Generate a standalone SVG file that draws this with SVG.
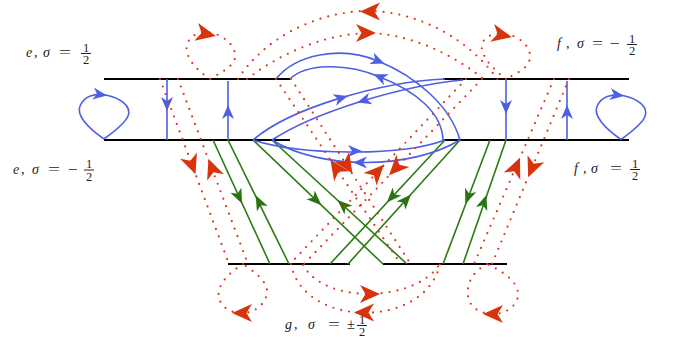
<svg xmlns="http://www.w3.org/2000/svg" width="681" height="341" viewBox="0 0 681 341">
<style>
.brane{stroke:#000;stroke-width:2;fill:none}
.bl{stroke:#4d5fe3;stroke-width:1.6;fill:none}
.gr{stroke:#2b7a12;stroke-width:1.6;fill:none}
.rd{stroke:#e2351c;stroke-width:2.2;fill:none;stroke-linecap:round;stroke-dasharray:0 8}
.fb{fill:#4d5fe3}
.fg{fill:#2a7410}
.fr{fill:#d8340c}
text{font-family:"Liberation Serif","DejaVu Serif",serif;fill:#222}
.m{font-size:14px;font-style:italic}
.n{font-size:14px}
.d{font-size:12.5px;text-anchor:middle}
.bar{stroke:#222;stroke-width:1}
</style>
<defs>
<path id="ab" d="M7,0 L-7,-6 L-3,0 L-7,6 Z"/>
<path id="ag" d="M7.5,0 L-7.5,-6 L-3.5,0 L-7.5,6 Z"/>
<path id="ar" d="M10,0 L-10,-9 L-4.5,0 L-10,9 Z"/>
</defs>
<g id="branes">
<line class="brane" x1="104" y1="79" x2="290" y2="79"/>
<line class="brane" x1="443" y1="79" x2="629" y2="79"/>
<line class="brane" x1="104" y1="140" x2="290" y2="140"/>
<line class="brane" x1="443" y1="140" x2="629" y2="140"/>
<line class="brane" x1="228" y1="264" x2="350" y2="264"/>
<line class="brane" x1="383" y1="264" x2="507" y2="264"/>
</g>
<g id="connectors">
<g id="green">
<path class="gr" d="M213,140 L270,264"/>
<path class="gr" d="M228,140 L289,264"/>
<path class="gr" d="M253,140 L383,264"/>
<path class="gr" d="M272,140 L407,264"/>
<path class="gr" d="M445,140 L330,264"/>
<path class="gr" d="M460,140 L348,264"/>
<path class="gr" d="M490,140 L443,264"/>
<path class="gr" d="M506,140 L463,264"/>
<use href="#ag" class="fg" transform="translate(239,197) rotate(65.3)"/>
<use href="#ag" class="fg" transform="translate(259,202) rotate(243.8)"/>
<use href="#ag" class="fg" transform="translate(316,200) rotate(43.6)"/>
<use href="#ag" class="fg" transform="translate(343,205) rotate(222.6)"/>
<use href="#ag" class="fg" transform="translate(392,197) rotate(132.8)"/>
<use href="#ag" class="fg" transform="translate(406,200) rotate(-47.9)"/>
<use href="#ag" class="fg" transform="translate(468,197) rotate(110.8)"/>
<use href="#ag" class="fg" transform="translate(484,202) rotate(-70.9)"/>
</g>
<g id="blue">
<path class="bl" d="M104,139 C88,128 76,115 80,106 C84,96 95,93 106,95 C120,98 132,106 128,116 C125,124 112,133 104,139"/>
<path class="bl" transform="translate(517,0.5)" d="M104,139 C88,128 76,115 80,106 C84,96 95,93 106,95 C120,98 132,106 128,116 C125,124 112,133 104,139"/>
<path class="bl" d="M167,79 V140"/>
<path class="bl" d="M228,81 V140"/>
<path class="bl" d="M506,79 V140"/>
<path class="bl" d="M567,81 V140"/>
<path class="bl" d="M276,79 C295,55 340,45 378,61 C415,76 450,105 460,140"/>
<path class="bl" d="M290,79 C305,64 345,62 380,77 C415,91 442,112 443,140"/>
<path class="bl" d="M253,140 C290,108 380,82 445,79"/>
<path class="bl" d="M272,140 C315,112 400,86 463,80"/>
<path class="bl" d="M253,140 C300,155 400,157 445,140"/>
<path class="bl" d="M272,140 C320,170 410,170 460,140"/>
<use href="#ab" class="fb" transform="translate(100,94.5) rotate(8)"/>
<use href="#ab" class="fb" transform="translate(617,95) rotate(8)"/>
<use href="#ab" class="fb" transform="translate(167,104) rotate(90)"/>
<use href="#ab" class="fb" transform="translate(228,112) rotate(-90)"/>
<use href="#ab" class="fb" transform="translate(506,107) rotate(90)"/>
<use href="#ab" class="fb" transform="translate(567,112) rotate(-90)"/>
<use href="#ab" class="fb" transform="translate(378,61) rotate(22)"/>
<use href="#ab" class="fb" transform="translate(380,77) rotate(203)"/>
<use href="#ab" class="fb" transform="translate(341,98) rotate(-17)"/>
<use href="#ab" class="fb" transform="translate(364,100.5) rotate(163)"/>
<use href="#ab" class="fb" transform="translate(355,151) rotate(0)"/>
<use href="#ab" class="fb" transform="translate(360,162.5) rotate(180)"/>
</g>
<g id="red">
<path class="rd" d="M210,79 C196,70 184,56 187,45 C190,33 205,29 218,35 C232,41 240,55 232,64 C226,71 216,75 210,79"/>
<path class="rd" d="M506,79 C494,70 480,56 482,45 C484,34 500,31 513,36 C526,41 534,53 528,64 C523,71 513,75 506,79"/>
<path class="rd" d="M238,79 C270,30 330,10 370,11 C420,12 470,40 498,80"/>
<path class="rd" d="M247,79 C285,50 330,33 372,33 C420,36 460,60 485,80"/>
<path class="rd" d="M160,79 L229,264"/>
<path class="rd" d="M178,79 L248,264"/>
<path class="rd" d="M554,79 L474,264"/>
<path class="rd" d="M569,79 L492,264"/>
<path class="rd" d="M276,79 L400,263"/>
<path class="rd" d="M291,79 L410,263"/>
<path class="rd" d="M466,79 L291,263"/>
<path class="rd" d="M482,79 L304,264"/>
<path class="rd" d="M303,265 C325,305 415,302 439,265"/>
<path class="rd" d="M291,264 C303,328 425,330 440,264"/>
<path class="rd" d="M243,264 C230,272 216,285 219,298 C222,310 236,314 245,313 C256,312 268,302 267,290 C266,280 252,270 243,264"/>
<path class="rd" d="M487,264 C475,270 466,282 468,296 C470,309 482,314 494,314 C506,314 519,305 518,293 C517,280 500,270 487,264"/>
<use href="#ar" class="fr" transform="translate(206,34) rotate(12)"/>
<use href="#ar" class="fr" transform="translate(502,35) rotate(12)"/>
<use href="#ar" class="fr" transform="translate(370,11.5) rotate(180)"/>
<use href="#ar" class="fr" transform="translate(366,33) rotate(0)"/>
<use href="#ar" class="fr" transform="translate(192,165) rotate(69.5)"/>
<use href="#ar" class="fr" transform="translate(212,168) rotate(249.3)"/>
<use href="#ar" class="fr" transform="translate(516,167) rotate(-66.6)"/>
<use href="#ar" class="fr" transform="translate(532,168) rotate(112.6)"/>
<use href="#ar" class="fr" transform="translate(336,168) rotate(236)"/>
<use href="#ar" class="fr" transform="translate(347,165) rotate(57)"/>
<use href="#ar" class="fr" transform="translate(377,172) rotate(-46.4)"/>
<use href="#ar" class="fr" transform="translate(396,168) rotate(133.9)"/>
<use href="#ar" class="fr" transform="translate(370,294) rotate(0)"/>
<use href="#ar" class="fr" transform="translate(364,312.5) rotate(180)"/>
<use href="#ar" class="fr" transform="translate(242,313) rotate(180)"/>
<use href="#ar" class="fr" transform="translate(493,314) rotate(180)"/>
</g>
</g>
<g id="label-e-top">
<text class="m" x="26" y="57">e</text>
<text class="n" x="34" y="57">,</text>
<text class="m" x="43" y="57">σ</text>
<text class="n" x="59" y="57" textLength="12" lengthAdjust="spacingAndGlyphs">=</text>
<text class="d" x="86" y="51.5">1</text>
<line class="bar" x1="81" y1="53.5" x2="91" y2="53.5"/>
<text class="d" x="86" y="64">2</text>
</g>
<g id="label-e-bottom">
<text class="m" x="13" y="174">e</text>
<text class="n" x="21" y="174">,</text>
<text class="m" x="32" y="174">σ</text>
<text class="n" x="48" y="174" textLength="12" lengthAdjust="spacingAndGlyphs">=</text>
<text class="n" x="68" y="174" textLength="10" lengthAdjust="spacingAndGlyphs">−</text>
<text class="d" x="89" y="168">1</text>
<line class="bar" x1="84" y1="170" x2="94" y2="170"/>
<text class="d" x="89" y="180.5">2</text>
</g>
<g id="label-f-top">
<text class="m" x="557" y="48">f</text>
<text class="n" x="566" y="48">,</text>
<text class="m" x="577" y="48">σ</text>
<text class="n" x="592" y="48" textLength="11" lengthAdjust="spacingAndGlyphs">=</text>
<text class="n" x="610" y="48" textLength="10" lengthAdjust="spacingAndGlyphs">−</text>
<text class="d" x="632" y="42.5">1</text>
<line class="bar" x1="627" y1="44.5" x2="637" y2="44.5"/>
<text class="d" x="632" y="55">2</text>
</g>
<g id="label-f-bottom">
<text class="m" x="574" y="173">f</text>
<text class="n" x="583" y="173">,</text>
<text class="m" x="591" y="173">σ</text>
<text class="n" x="610" y="173" textLength="12" lengthAdjust="spacingAndGlyphs">=</text>
<text class="d" x="635" y="167.5">1</text>
<line class="bar" x1="630" y1="169.5" x2="640" y2="169.5"/>
<text class="d" x="635" y="180">2</text>
</g>
<g id="label-g">
<text class="m" x="285" y="329">g</text>
<text class="n" x="294" y="329">,</text>
<text class="m" x="308" y="329">σ</text>
<text class="n" x="328" y="329" textLength="12" lengthAdjust="spacingAndGlyphs">=</text>
<text class="n" x="347" y="329" textLength="8" lengthAdjust="spacingAndGlyphs">±</text>
<text class="d" x="362" y="323.5">1</text>
<line class="bar" x1="357" y1="325.5" x2="367" y2="325.5"/>
<text class="d" x="362" y="336">2</text>
</g>
</svg>
